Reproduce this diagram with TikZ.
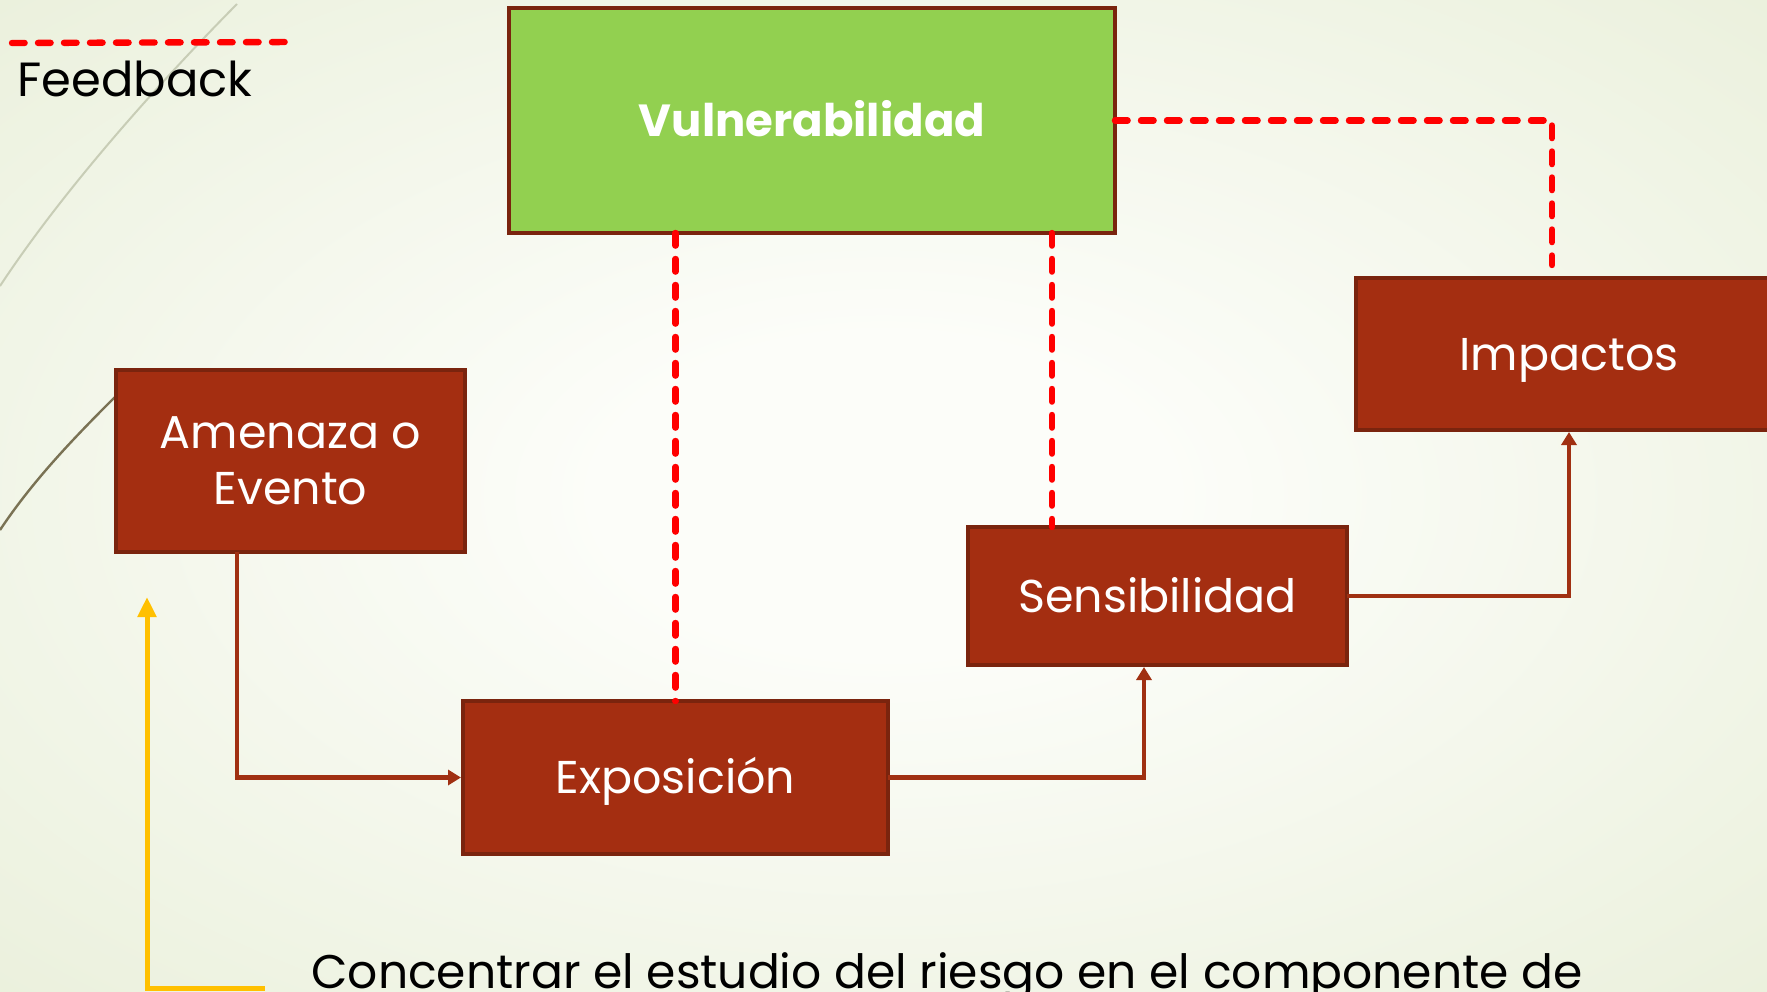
\documentclass[tikz,border=0pt]{standalone}
\usepackage{fontspec}
\setmainfont{Poppins}
\usetikzlibrary{arrows.meta}

\definecolor{boxred}{RGB}{164,46,17}
\definecolor{boxline}{RGB}{122,36,14}
\definecolor{vulngreen}{RGB}{146,208,80}
\definecolor{fbred}{RGB}{255,0,0}
\definecolor{linkbrown}{RGB}{160,48,18}
\definecolor{noteyellow}{RGB}{255,192,0}
\definecolor{bggreen}{RGB}{226,234,206}
\definecolor{bgwhite}{RGB}{252,253,249}
\definecolor{themefaint}{RGB}{200,205,182}
\definecolor{themedark}{RGB}{122,114,84}

\pgfdeclareradialshading{slidebg}{\pgfpoint{0bp}{0bp}}{color(0bp)=(bgwhite); color(8bp)=(bgwhite); color(50bp)=(bggreen); color(72bp)=(bggreen)}

\begin{document}
\begin{tikzpicture}[x=0.5pt,y=0.5pt,yscale=-1,xscale=1,
    box/.style={draw=boxline,line width=1.6pt,fill=boxred,text=white,inner sep=0pt,outer sep=0pt,align=center,font=\fontsize{23}{28}\selectfont},
    capmid/.style={text height=16pt,text depth=0pt},
    link/.style={draw=linkbrown,line width=2.3pt,shorten >=1pt,-{Triangle[length=6.5pt,width=7.5pt]}},
    feedback/.style={draw=fbred,line width=3.2pt,line cap=round,dash pattern=on 6.3pt off 6.7pt},
    note/.style={draw=noteyellow,line width=2.5pt,-{Triangle[length=10pt,width=9pt]}}]

            % Background
            \useasboundingbox (0,0) rectangle (1767,991);
            \clip (0,0) rectangle (1767,991);
            \shade[shading=slidebg] (0,0) rectangle (1767,991);

            % Theme lines
            \draw [color=themefaint][line width=1pt] (237,4) .. controls (150,92) and (60,195) .. (0,286);
            \draw [color=themedark][line width=1.2pt] (140,372) .. controls (90,422) and (40,470) .. (0,530);

            % Boxes
            \node [box,capmid,fill=vulngreen,minimum width=303pt,minimum height=112.5pt,font=\fontsize{22.5}{28}\bfseries\selectfont] (vuln) at (812,120.5) {Vulnerabilidad};
            \node [box,minimum width=174.5pt,minimum height=91pt] (amenaza) at (290.5,461) {Amenaza o\\Evento};
            \node [box,capmid,minimum width=212.5pt,minimum height=76.5pt] (expo) at (675.5,777.5) {Exposición};
            \node [box,capmid,minimum width=189.5pt,minimum height=69pt] (sensib) at (1157.5,596) {Sensibilidad};
            \node [box,capmid,minimum width=213pt,minimum height=76pt] (impactos) at (1569,354) {Impactos};

            % Arrows
            \draw [link] ([xshift=-26.75pt]amenaza.south) |- (expo.west);
            \draw [link] (expo.east) -| ([xshift=-6.75pt]sensib.south);
            \draw [link] (sensib.east) -| (impactos.south);

            % Feedback lines
            \coordinate (sfb) at ([xshift=-52.75pt]sensib.north);
            \coordinate (ifb) at ([xshift=-8.5pt,yshift=-6.5pt]impactos.north);
            \draw [feedback] (vuln.south -| expo.north) -- (expo.north);
            \draw [feedback] (sfb |- vuln.south) -- (sfb);
            \draw [feedback] (vuln.east) -| (ifb);

            % Legend
            \coordinate (legA) at (12,43);
            \coordinate (legB) at (293,42);
            \draw [feedback] (legA) -- (legB);
            \node [anchor=base west,inner sep=0pt,font=\fontsize{24}{28}\selectfont] (fbtext) at (17,96) {Feedback};

            % Note
            \coordinate (noteend) at (265,988);
            \coordinate (notetip) at (147,597);
            \draw [note] (noteend) -| (notetip);
            \node [anchor=base west,inner sep=0pt,font=\fontsize{23.6}{28}\selectfont] (concl) at (311,988) {Concentrar el estudio del riesgo en el componente de};

\end{tikzpicture}
\end{document}
